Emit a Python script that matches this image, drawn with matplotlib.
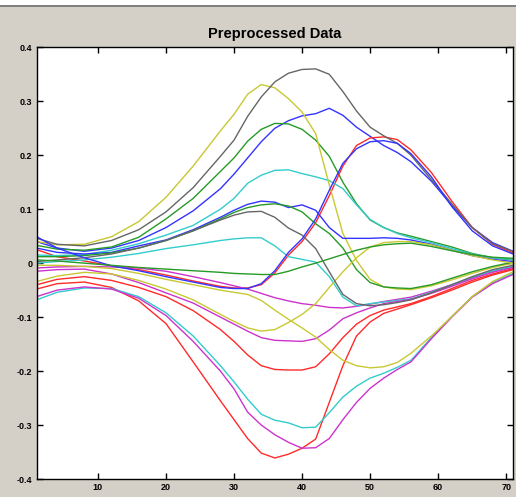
import matplotlib
matplotlib.use("Agg")
import matplotlib.pyplot as plt
from matplotlib.patches import Rectangle
from matplotlib.lines import Line2D

# sample positions along the x axis
x = [1, 4, 8, 12, 16, 20, 24, 28, 30, 32, 34, 36, 38, 40, 42, 44, 46, 48, 50,
     52, 54, 56, 59, 62, 65, 68, 71]

# upper group
y1 = [0.040, 0.034, 0.035, 0.049, 0.077, 0.122, 0.180, 0.245, 0.276, 0.313, 0.331, 0.325, 0.305, 0.280,
      0.240, 0.145, 0.055, 0.005, -0.030, -0.044, -0.048, -0.049, -0.042, -0.031, -0.019, -0.008, 0.0]
k1 = [0.046, 0.035, 0.032, 0.042, 0.062, 0.095, 0.140, 0.198, 0.228, 0.272, 0.308, 0.336, 0.352, 0.359,
      0.360, 0.350, 0.318, 0.282, 0.252, 0.236, 0.222, 0.200, 0.155, 0.110, 0.066, 0.036, 0.022]
g1 = [0.033, 0.026, 0.024, 0.030, 0.048, 0.082, 0.120, 0.170, 0.195, 0.226, 0.248, 0.259, 0.258, 0.248,
      0.228, 0.198, 0.150, 0.110, 0.080, 0.066, 0.056, 0.050, 0.040, 0.030, 0.018, 0.010, 0.006]
b1 = [0.040, 0.028, 0.022, 0.028, 0.042, 0.066, 0.097, 0.138, 0.165, 0.195, 0.225, 0.250, 0.264, 0.273,
      0.277, 0.287, 0.274, 0.252, 0.235, 0.218, 0.205, 0.188, 0.152, 0.107, 0.066, 0.038, 0.022]
c1 = [0.015, 0.014, 0.016, 0.024, 0.036, 0.052, 0.070, 0.100, 0.120, 0.148, 0.163, 0.172, 0.173, 0.166,
      0.160, 0.153, 0.138, 0.108, 0.081, 0.066, 0.055, 0.047, 0.038, 0.027, 0.017, 0.010, 0.007]

# middle bundle
b2 = [0.028, 0.020, 0.017, 0.020, 0.032, 0.043, 0.062, 0.085, 0.098, 0.109, 0.115, 0.113, 0.103, 0.108,
      0.098, 0.066, 0.046, 0.046, 0.046, 0.047, 0.046, 0.043, 0.035, 0.024, 0.014, 0.007, 0.003]
g2 = [0.012, 0.012, 0.014, 0.019, 0.028, 0.042, 0.060, 0.082, 0.094, 0.103, 0.108, 0.110, 0.106, 0.095,
      0.073, 0.055, 0.028, -0.012, -0.036, -0.044, -0.046, -0.047, -0.040, -0.028, -0.016, -0.006, 0.002]
k2 = [0.003, 0.006, 0.010, 0.017, 0.028, 0.042, 0.060, 0.080, 0.089, 0.095, 0.096, 0.085, 0.065, 0.052,
      0.027, -0.016, -0.058, -0.075, -0.079, -0.077, -0.073, -0.068, -0.055, -0.040, -0.025, -0.012, -0.004]
c2 = [0.0, 0.003, 0.006, 0.011, 0.018, 0.027, 0.034, 0.042, 0.045, 0.047, 0.047, 0.032, 0.012, 0.007,
      0.002, -0.025, -0.063, -0.079, -0.075, -0.072, -0.069, -0.066, -0.054, -0.040, -0.026, -0.014, -0.006]
g3 = [0.006, 0.004, 0.0, -0.004, -0.008, -0.011, -0.014, -0.017, -0.019, -0.020, -0.021, -0.021, -0.015, -0.007,
      0.0, 0.008, 0.016, 0.024, 0.030, 0.034, 0.036, 0.037, 0.031, 0.023, 0.016, 0.011, 0.009]

# dip then rise
r1 = [0.025, 0.012, 0.004, -0.005, -0.012, -0.022, -0.033, -0.043, -0.046, -0.046, -0.040, -0.018, 0.015, 0.040,
      0.075, 0.125, 0.180, 0.218, 0.232, 0.234, 0.229, 0.210, 0.168, 0.115, 0.066, 0.035, 0.019]
b3 = [0.049, 0.028, 0.010, -0.005, -0.014, -0.025, -0.035, -0.045, -0.047, -0.047, -0.038, -0.014, 0.020, 0.045,
      0.082, 0.135, 0.185, 0.212, 0.225, 0.227, 0.222, 0.203, 0.160, 0.105, 0.060, 0.032, 0.017]
y2 = [-0.034, -0.024, -0.017, -0.020, -0.032, -0.048, -0.068, -0.095, -0.108, -0.120, -0.126, -0.123, -0.110, -0.095,
      -0.075, -0.045, -0.016, 0.010, 0.030, 0.038, 0.040, 0.040, 0.034, 0.024, 0.014, 0.006, 0.0]

# lower group
y3 = [-0.004, -0.004, -0.006, -0.010, -0.019, -0.030, -0.040, -0.050, -0.054, -0.058, -0.069, -0.087, -0.104, -0.120,
      -0.137, -0.160, -0.180, -0.190, -0.194, -0.192, -0.184, -0.167, -0.135, -0.099, -0.062, -0.034, -0.016]
m1 = [-0.009, -0.007, -0.006, -0.007, -0.009, -0.015, -0.025, -0.036, -0.042, -0.048, -0.056, -0.064, -0.070, -0.075,
      -0.078, -0.082, -0.083, -0.080, -0.076, -0.071, -0.067, -0.063, -0.052, -0.040, -0.027, -0.015, -0.007]
m2 = [-0.015, -0.012, -0.011, -0.020, -0.036, -0.055, -0.074, -0.100, -0.113, -0.126, -0.138, -0.143, -0.144, -0.145,
      -0.140, -0.124, -0.103, -0.092, -0.083, -0.075, -0.071, -0.067, -0.056, -0.043, -0.029, -0.017, -0.008]
r2 = [-0.040, -0.030, -0.025, -0.032, -0.045, -0.062, -0.088, -0.123, -0.145, -0.170, -0.190, -0.197, -0.198, -0.198,
      -0.192, -0.168, -0.138, -0.113, -0.097, -0.087, -0.081, -0.075, -0.062, -0.047, -0.032, -0.020, -0.010]
r3 = [-0.048, -0.038, -0.035, -0.045, -0.070, -0.112, -0.183, -0.255, -0.290, -0.325, -0.352, -0.361, -0.354, -0.343,
      -0.326, -0.258, -0.190, -0.135, -0.109, -0.093, -0.085, -0.077, -0.064, -0.050, -0.035, -0.022, -0.012]
m3 = [-0.062, -0.050, -0.044, -0.048, -0.065, -0.097, -0.145, -0.200, -0.233, -0.276, -0.300, -0.318, -0.332, -0.343,
      -0.342, -0.325, -0.290, -0.258, -0.232, -0.213, -0.197, -0.183, -0.140, -0.100, -0.063, -0.038, -0.021]
c3 = [-0.068, -0.054, -0.046, -0.047, -0.062, -0.092, -0.135, -0.190, -0.220, -0.252, -0.280, -0.291, -0.296, -0.305,
      -0.304, -0.277, -0.248, -0.228, -0.213, -0.204, -0.193, -0.180, -0.138, -0.099, -0.062, -0.036, -0.019]

xticks = [10, 20, 30, 40, 50, 60, 70]
yticks = [-0.4, -0.3, -0.2, -0.1, 0, 0.1, 0.2, 0.3, 0.4]
ytick_labels = ["-0.4", "-0.3", "-0.2", "-0.1", "0", "0.1", "0.2", "0.3", "0.4"]

BLUE = "#3333ff"
GREEN = "#279a27"
RED = "#ff2a2a"
CYAN = "#33cccc"
MAG = "#cc33cc"
YEL = "#c8c832"
GRAY = "#666666"

series = [
    (b1, BLUE), (g1, GREEN), (r1, RED), (c1, CYAN), (m1, MAG), (y1, YEL), (k1, GRAY),
    (b2, BLUE), (g2, GREEN), (r2, RED), (c2, CYAN), (m2, MAG), (y2, YEL), (k2, GRAY),
    (b3, BLUE), (g3, GREEN), (r3, RED), (c3, CYAN), (m3, MAG), (y3, YEL),
]

fig = plt.figure(figsize=(5.16, 4.97), dpi=100, facecolor="#d4d0c8")
# window strip at the very top
fig.add_artist(Rectangle((0, 1 - 5 / 497), 1, 5 / 497, transform=fig.transFigure,
                         facecolor="white", edgecolor="none"))
fig.add_artist(Line2D([0, 1], [1 - 6 / 497, 1 - 6 / 497], transform=fig.transFigure,
                      color="#707070", lw=1.2))

ax = fig.add_axes([0.0711, 0.0362, 0.9231, 0.8686])
ax.set_facecolor("white")

for ys, col in series:
    ax.plot(x, ys, color=col, lw=1.0)

ax.set_xlim(1, 71)
ax.set_ylim(-0.4, 0.4)
ax.set_xticks(xticks)
ax.set_xticklabels([str(t) for t in xticks])
ax.set_yticks(yticks)
ax.set_yticklabels(ytick_labels)
ax.tick_params(direction="in", length=4, width=1, top=True, right=True,
               labelsize=6.5, pad=3, colors="black")
for lab in ax.get_xticklabels() + ax.get_yticklabels():
    lab.set_fontweight("bold")
    lab.set_family("Liberation Sans")
for sp in ax.spines.values():
    sp.set_color("black")
    sp.set_linewidth(1.0)

ax.set_title("Preprocessed Data", fontsize=10.5, fontweight="bold",
             family="Liberation Sans", pad=7)

fig.savefig("out.png", dpi=100, facecolor=fig.get_facecolor())
